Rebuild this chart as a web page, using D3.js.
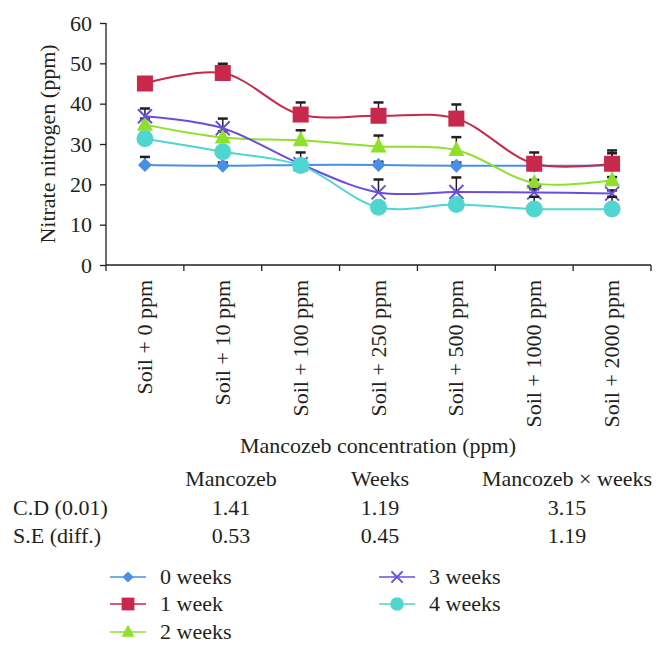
<!DOCTYPE html>
<html>
<head>
<meta charset="utf-8">
<script src="https://cdn.jsdelivr.net/npm/d3@7"></script>
<style>
  body { margin: 0; background: #fff; }
  text { font-family: "Liberation Serif", "DejaVu Serif", serif; fill: #231f20; }
</style>
</head>
<body>
<div id="chart"></div>
<script>
// data
var categories = ["Soil + 0 ppm", "Soil + 10 ppm", "Soil + 100 ppm", "Soil + 250 ppm",
                  "Soil + 500 ppm", "Soil + 1000 ppm", "Soil + 2000 ppm"];
var seriesNames = ["0 weeks", "1 week", "2 weeks", "3 weeks", "4 weeks"];
var week0 = [24.8, 24.6, 24.8, 24.8, 24.6, 24.6, 24.7];
var week1 = [45.0, 47.6, 37.3, 37.0, 36.3, 25.1, 25.1];
var week2 = [34.8, 31.6, 30.9, 29.4, 28.5, 20.3, 21.0];
var week3 = [36.9, 33.9, 25.0, 18.0, 18.1, 18.0, 17.7];
var week4 = [31.3, 28.1, 24.7, 14.3, 15.0, 13.9, 13.9];
var err0 = [2.0, 0.8, 0.8, 0.8, 0.8, 0.8, 3.0];
var err1 = [1.5, 2.3, 3.0, 3.3, 3.5, 2.8, 3.3];
var err2 = [1.5, 1.5, 2.5, 2.7, 3.2, 0.8, 0.8];
var err3 = [1.9, 2.4, 2.9, 3.2, 3.6, 0.8, 0.8];
var err4 = [1.5, 1.0, 1.0, 1.0, 1.0, 3.0, 3.0];
var yTicks = [0, 10, 20, 30, 40, 50, 60];

var statCols = ["Mancozeb", "Weeks", "Mancozeb \u00d7 weeks"];
var statRows = ["C.D (0.01)", "S.E (diff.)"];
var cdValues = ["1.41", "1.19", "3.15"];
var seValues = ["0.53", "0.45", "1.19"];

var colors = ["#4a8fe6", "#c8284c", "#8ee02a", "#6b4fdc", "#4fd6d0"];
var shapes = ["diamond", "square", "triangle", "cross", "circle"];

var allValues = [week0, week1, week2, week3, week4];
var allErrors = [err0, err1, err2, err3, err4];

var width = 666, height = 654;
var plot = { left: 106, right: 651, top: 23, bottom: 265 };
var fontSize = "22px";

var svg = d3.select("#chart")
    .append("svg")
    .attr("width", width)
    .attr("height", height);

// scales
var xBand = d3.scaleBand()
    .domain(categories)
    .range([plot.left, plot.right]);

var xScale = function (c) { return xBand(c) + xBand.bandwidth() / 2; };

var yScale = d3.scaleLinear()
    .domain([0, 60])
    .range([plot.bottom, plot.top]);

// y axis
var yAxis = svg.append("g")
    .attr("transform", "translate(" + plot.left + ",0)")
    .call(d3.axisLeft(yScale).tickValues(yTicks).tickSize(6).tickPadding(8));
yAxis.selectAll("text")
    .style("font-size", fontSize)
    .style("font-family", "Liberation Serif, serif")
    .attr("fill", "#231f20");
yAxis.selectAll("line, path").attr("stroke", "#231f20").attr("stroke-width", 1.3);
yAxis.select("path").attr("d", "M0," + plot.top + "V" + plot.bottom);

// x axis (ticks on category boundaries)
var xAxis = svg.append("g")
    .attr("transform", "translate(0," + plot.bottom + ")")
    .call(d3.axisBottom(xBand).tickSize(0).tickFormat(""));
xAxis.select("path").attr("d", "M" + plot.left + ",0H" + plot.right).attr("stroke", "#231f20").attr("stroke-width", 1.3);
var boundaries = categories.map(function (c) { return xBand(c); }).concat([plot.right]);
xAxis.selectAll(".bound")
    .data(boundaries)
    .enter()
    .append("line")
    .attr("x1", d => d).attr("x2", d => d)
    .attr("y1", 0).attr("y2", 6)
    .attr("stroke", "#231f20")
    .attr("stroke-width", 1.3);

// x tick labels, rotated
svg.selectAll(".xlabel")
    .data(categories)
    .enter()
    .append("text")
    .attr("class", "xlabel")
    .attr("transform", d => "translate(" + (xScale(d) + 7) + "," + (plot.bottom + 15) + ") rotate(-90)")
    .attr("text-anchor", "end")
    .style("font-size", fontSize)
    .text(d => d);

// axis titles
svg.append("text")
    .attr("transform", "translate(55," + ((plot.top + plot.bottom) / 2) + ") rotate(-90)")
    .attr("text-anchor", "middle")
    .style("font-size", fontSize)
    .text("Nitrate nitrogen (ppm)");

svg.append("text")
    .attr("x", 378)
    .attr("y", 453)
    .attr("text-anchor", "middle")
    .style("font-size", fontSize)
    .text("Mancozeb concentration (ppm)");

// symbols
function drawMarker(g, shape, color, x, y, k) {
    k = k || 1;
    if (shape === "diamond") {
        var a = 7 * k;
        g.append("path")
            .attr("d", "M" + x + "," + (y - a) + "L" + (x + a) + "," + y + "L" + x + "," + (y + a) + "L" + (x - a) + "," + y + "Z")
            .attr("fill", color);
    } else if (shape === "square") {
        var h = 8 * k;
        g.append("rect")
            .attr("x", x - h).attr("y", y - h)
            .attr("width", 2 * h).attr("height", 2 * h)
            .attr("fill", color);
    } else if (shape === "triangle") {
        g.append("path")
            .attr("d", "M" + x + "," + (y - 9 * k) + "L" + (x + 8 * k) + "," + (y + 6 * k) + "L" + (x - 8 * k) + "," + (y + 6 * k) + "Z")
            .attr("fill", color);
    } else if (shape === "cross") {
        var c = 7 * k;
        g.append("path")
            .attr("d", "M" + (x - c) + "," + (y - c) + "L" + (x + c) + "," + (y + c) + "M" + (x + c) + "," + (y - c) + "L" + (x - c) + "," + (y + c))
            .attr("stroke", color)
            .attr("stroke-width", 2)
            .attr("fill", "none");
    } else {
        g.append("circle")
            .attr("cx", x).attr("cy", y)
            .attr("r", 8.5 * k)
            .attr("fill", color);
    }
}

// lines, error bars and markers
var line = d3.line()
    .x(d => xScale(d.cat))
    .y(d => yScale(d.value))
    .curve(d3.curveCatmullRom.alpha(0.5));

allValues.forEach(function (values, s) {
    var data = categories.map(function (c, i) {
        return { cat: c, value: values[i], err: allErrors[s][i] };
    });
    var g = svg.append("g").attr("class", "series");

    g.append("path")
        .datum(data)
        .attr("d", line)
        .attr("fill", "none")
        .attr("stroke", colors[s])
        .attr("stroke-width", 2);

    // error bars (plus direction)
    data.forEach(function (d) {
        var x = xScale(d.cat);
        g.append("line")
            .attr("x1", x).attr("x2", x)
            .attr("y1", yScale(d.value)).attr("y2", yScale(d.value + d.err))
            .attr("stroke", "#231f20").attr("stroke-width", 1.5);
        g.append("line")
            .attr("x1", x - 5).attr("x2", x + 5)
            .attr("y1", yScale(d.value + d.err)).attr("y2", yScale(d.value + d.err))
            .attr("stroke", "#231f20").attr("stroke-width", 2.5);
    });

    data.forEach(function (d) {
        drawMarker(g, shapes[s], colors[s], xScale(d.cat), yScale(d.value));
    });
});

// stats table
var colX = [231, 380, 567];
var rowY = [486, 515, 543];

svg.selectAll(".colhead")
    .data(statCols)
    .enter()
    .append("text")
    .attr("x", (d, i) => colX[i])
    .attr("y", rowY[0])
    .attr("text-anchor", "middle")
    .style("font-size", fontSize)
    .text(d => d);

[cdValues, seValues].forEach(function (vals, r) {
    svg.append("text")
        .attr("x", 13)
        .attr("y", rowY[r + 1])
        .style("font-size", fontSize)
        .text(statRows[r]);
    svg.selectAll(".row" + r)
        .data(vals)
        .enter()
        .append("text")
        .attr("x", (d, i) => colX[i])
        .attr("y", rowY[r + 1])
        .attr("text-anchor", "middle")
        .style("font-size", fontSize)
        .text(d => d);
});

// legend
var legendPos = [[110, 577], [110, 604], [110, 632], [379, 577], [379, 604]];
seriesNames.forEach(function (name, s) {
    var lx = legendPos[s][0], ly = legendPos[s][1];
    var g = svg.append("g").attr("class", "legend");
    g.append("line")
        .attr("x1", lx).attr("x2", lx + 36)
        .attr("y1", ly).attr("y2", ly)
        .attr("stroke", colors[s])
        .attr("stroke-width", 1.5);
    drawMarker(g, shapes[s], colors[s], lx + 18, ly, 0.8);
    g.append("text")
        .attr("x", lx + 50)
        .attr("y", ly + 7)
        .style("font-size", fontSize)
        .text(name);
});
</script>
</body>
</html>
